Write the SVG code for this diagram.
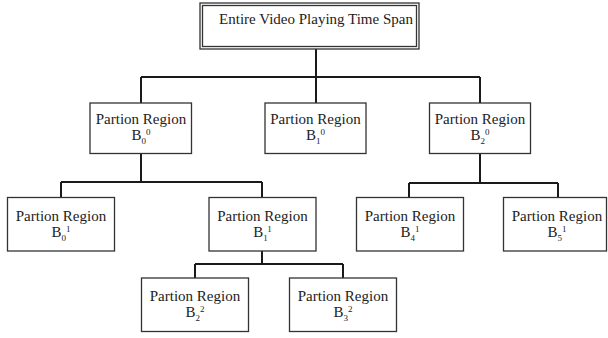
<svg xmlns="http://www.w3.org/2000/svg" width="608" height="338" viewBox="0 0 608 338">
<style>
.box{fill:#fff;stroke:#333;stroke-width:1.3}
.conn{fill:none;stroke:#1a1a1a;stroke-width:2}
text{font-family:"Liberation Serif","Times New Roman",serif;font-size:15px;fill:#222;text-anchor:middle}
.s{font-size:9px}
</style>
<rect width="608" height="338" fill="#fff"/>
<g id="connectors">
<path class="conn" d="M316 49V77M141 77H480M141 77V103M316 77V103M480 77V103"/>
<path class="conn" d="M141 153V182M61 182H262M61 182V197M262 182V197"/>
<path class="conn" d="M480 153V183M409 183H558M409 183V197M558 183V197"/>
<path class="conn" d="M262 251V264M195 264H343M195 264V278M343 264V278"/>
</g>
<g id="root">
<rect class="box" x="200" y="3" width="219" height="46"/>
<rect class="box" x="202.5" y="5.5" width="214" height="41"/>
<text x="316" y="23.5">Entire Video Playing Time Span</text>
</g>
<g id="b00">
<rect class="box" x="90" y="103" width="101.5" height="50.5"/>
<text x="141" y="123.5">Partion Region</text>
<text x="141" y="140">B<tspan class="s" dy="3.5">0</tspan><tspan class="s" dy="-8.5">0</tspan></text>
</g>
<g id="b10">
<rect class="box" x="265" y="103" width="101" height="50.5"/>
<text x="315.5" y="123.5">Partion Region</text>
<text x="315.5" y="140">B<tspan class="s" dy="3.5">1</tspan><tspan class="s" dy="-8.5">0</tspan></text>
</g>
<g id="b20">
<rect class="box" x="429.5" y="103" width="101" height="50.5"/>
<text x="480" y="123.5">Partion Region</text>
<text x="480" y="140">B<tspan class="s" dy="3.5">2</tspan><tspan class="s" dy="-8.5">0</tspan></text>
</g>
<g id="b01">
<rect class="box" x="7.5" y="197.5" width="107" height="53.5"/>
<text x="61" y="220.5">Partion Region</text>
<text x="61" y="237">B<tspan class="s" dy="3.5">0</tspan><tspan class="s" dy="-8.5">1</tspan></text>
</g>
<g id="b11">
<rect class="box" x="209" y="197.5" width="107" height="53.5"/>
<text x="262.5" y="220.5">Partion Region</text>
<text x="262.5" y="237">B<tspan class="s" dy="3.5">1</tspan><tspan class="s" dy="-8.5">1</tspan></text>
</g>
<g id="b41">
<rect class="box" x="356.5" y="197.5" width="107" height="53.5"/>
<text x="410" y="220.5">Partion Region</text>
<text x="410" y="237">B<tspan class="s" dy="3.5">4</tspan><tspan class="s" dy="-8.5">1</tspan></text>
</g>
<g id="b51">
<rect class="box" x="503.5" y="197.5" width="103" height="53.5"/>
<text x="557" y="220.5">Partion Region</text>
<text x="557" y="237">B<tspan class="s" dy="3.5">5</tspan><tspan class="s" dy="-8.5">1</tspan></text>
</g>
<g id="b22">
<rect class="box" x="141.5" y="278" width="107" height="53.5"/>
<text x="195" y="300.5">Partion Region</text>
<text x="195" y="317">B<tspan class="s" dy="3.5">2</tspan><tspan class="s" dy="-8.5">2</tspan></text>
</g>
<g id="b32">
<rect class="box" x="289.5" y="278" width="107" height="53.5"/>
<text x="343" y="300.5">Partion Region</text>
<text x="343" y="317">B<tspan class="s" dy="3.5">3</tspan><tspan class="s" dy="-8.5">2</tspan></text>
</g>
</svg>
